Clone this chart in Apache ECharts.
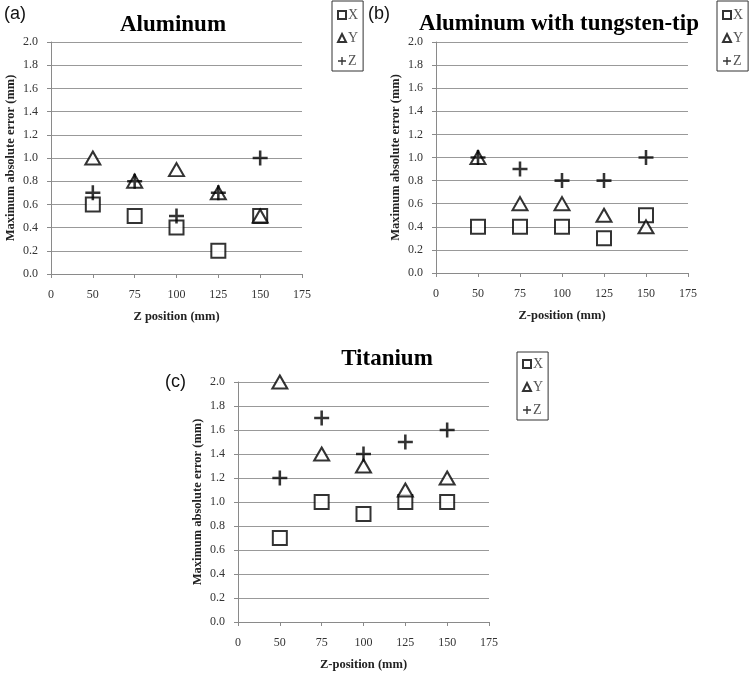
<!DOCTYPE html>
<html>
<head>
<meta charset="utf-8">
<script src="https://cdn.jsdelivr.net/npm/echarts@6/dist/echarts.min.js"></script>
<style>html,body{margin:0;padding:0;background:#fff;}#chart{width:750px;height:674px;}</style>
</head>
<body>
<div id="chart"></div>
<script>
// Category labels on the x axis (Excel line-chart style)
const categories = ['0', '50', '75', '100', '125', '150', '175'];
const positions = ['50', '75', '100', '125', '150'];
const seriesNames = ['X', 'Y', 'Z'];

// (a) Aluminum
const aluX = [0.6, 0.5, 0.4, 0.2, 0.5];
const aluY = [1.0, 0.8, 0.9, 0.7, 0.5];
const aluZ = [0.7, 0.8, 0.5, 0.7, 1.0];
// (b) Aluminum with tungsten-tip
const tipX = [0.4, 0.4, 0.4, 0.3, 0.5];
const tipY = [1.0, 0.6, 0.6, 0.5, 0.4];
const tipZ = [1.0, 0.9, 0.8, 0.8, 1.0];
// (c) Titanium
const tiX = [0.7, 1.0, 0.9, 1.0, 1.0];
const tiY = [2.0, 1.4, 1.3, 1.1, 1.2];
const tiZ = [1.2, 1.7, 1.4, 1.5, 1.6];

const titles = ['Aluminum', 'Aluminum with tungsten-tip', 'Titanium'];
const panelLabels = ['(a)', '(b)', '(c)'];
const xNames = ['Z position (mm)', 'Z-position (mm)', 'Z-position (mm)'];
const yName = 'Maximum absolute error (mm)';

const SERIF = '"Liberation Serif", "Times New Roman", serif';
const SANS = '"Liberation Sans", Arial, sans-serif';
const plusPath = 'path://M4.15,0H5.85V4.15H10V5.85H5.85V10H4.15V5.85H0V4.15H4.15Z';

const grids = [
  {left: 51, top: 42, width: 251, height: 232},
  {left: 436, top: 42, width: 252, height: 231},
  {left: 238, top: 382, width: 251, height: 240}
];

function xAxis(i) {
  return {
    type: 'category', gridIndex: i, data: categories, boundaryGap: false,
    axisLine: {lineStyle: {color: '#8a8a8a', width: 1}},
    axisTick: {show: true, length: 4, lineStyle: {color: '#8a8a8a'}, interval: 0},
    axisLabel: {interval: 0, margin: 15, color: '#333', fontFamily: SERIF, fontSize: 12},
    splitLine: {show: false},
    name: xNames[i], nameLocation: 'middle', nameGap: 36,
    nameTextStyle: {fontFamily: SERIF, fontWeight: 'bold', fontSize: 12.5, color: '#222'}
  };
}
function yAxis(i) {
  return {
    type: 'value', gridIndex: i, min: 0, max: 2, interval: 0.2,
    axisLine: {show: true, lineStyle: {color: '#8a8a8a', width: 1}},
    axisTick: {show: true, length: 4, lineStyle: {color: '#8a8a8a'}},
    axisLabel: {margin: 13, color: '#333', fontFamily: SERIF, fontSize: 12,
      formatter: v => v.toFixed(1)},
    splitLine: {show: true, lineStyle: {color: '#999', width: 1}},
    name: yName, nameLocation: 'middle', nameGap: 34, nameRotate: 90,
    nameTextStyle: {fontFamily: SERIF, fontWeight: 'bold', fontSize: 12.5, color: '#222'}
  };
}

const panelData = [[aluX, aluY, aluZ], [tipX, tipY, tipZ], [tiX, tiY, tiZ]];
const symbols = [
  {symbol: 'rect', size: 14, style: {color: '#fff', borderColor: '#000', borderWidth: 2}},
  {symbol: 'triangle', size: [15, 13], style: {color: '#fff', borderColor: '#000', borderWidth: 2}},
  {symbol: plusPath, size: 15, style: {color: '#000', borderWidth: 0}}
];

const series = [];
panelData.forEach((set, gi) => {
  set.forEach((vals, si) => {
    series.push({
      type: 'scatter', name: seriesNames[si], xAxisIndex: gi, yAxisIndex: gi,
      symbol: symbols[si].symbol, symbolSize: symbols[si].size,
      itemStyle: symbols[si].style,
      emphasis: {disabled: true},
      data: positions.map((p, k) => [p, vals[k]]),
      z: 2 + si
    });
  });
});

const legendPos = [
  {left: 332, top: 1, padding: [7, 5, 3, 5]},
  {left: 717, top: 1, padding: [7, 5, 3, 5]},
  {left: 517, top: 352, padding: [5, 5, 3, 5]}
];
const legends = legendPos.map(p => ({
  data: seriesNames, orient: 'vertical', left: p.left, top: p.top, padding: p.padding,
  itemWidth: 8, itemHeight: 8, itemGap: 9,
  borderColor: '#333', borderWidth: 1, selectedMode: false,
  textStyle: {fontFamily: SERIF, fontSize: 14, color: '#555', padding: [0, 0, 0, -3]}
}));

const titleCenters = [[173, 25], [559, 24], [387, 359]];
const labelPos = [[4, 14], [368, 14], [165, 382]];
const graphic = [];
titles.forEach((t, i) => {
  graphic.push({type: 'text', x: titleCenters[i][0], y: titleCenters[i][1],
    style: {text: t, fontFamily: SERIF, fontWeight: 'bold', fontSize: 23, fill: '#000',
      align: 'center', verticalAlign: 'middle'}});
  graphic.push({type: 'text', x: labelPos[i][0], y: labelPos[i][1],
    style: {text: panelLabels[i], fontFamily: SANS, fontSize: 18, fill: '#111',
      align: 'left', verticalAlign: 'middle'}});
});

const chart = echarts.init(document.getElementById('chart'), null, {renderer: 'canvas'});
chart.setOption({
  animation: false,
  backgroundColor: '#fff',
  grid: grids,
  xAxis: [0, 1, 2].map(xAxis),
  yAxis: [0, 1, 2].map(yAxis),
  legend: legends,
  graphic: graphic,
  series: series
});
</script>
</body>
</html>
